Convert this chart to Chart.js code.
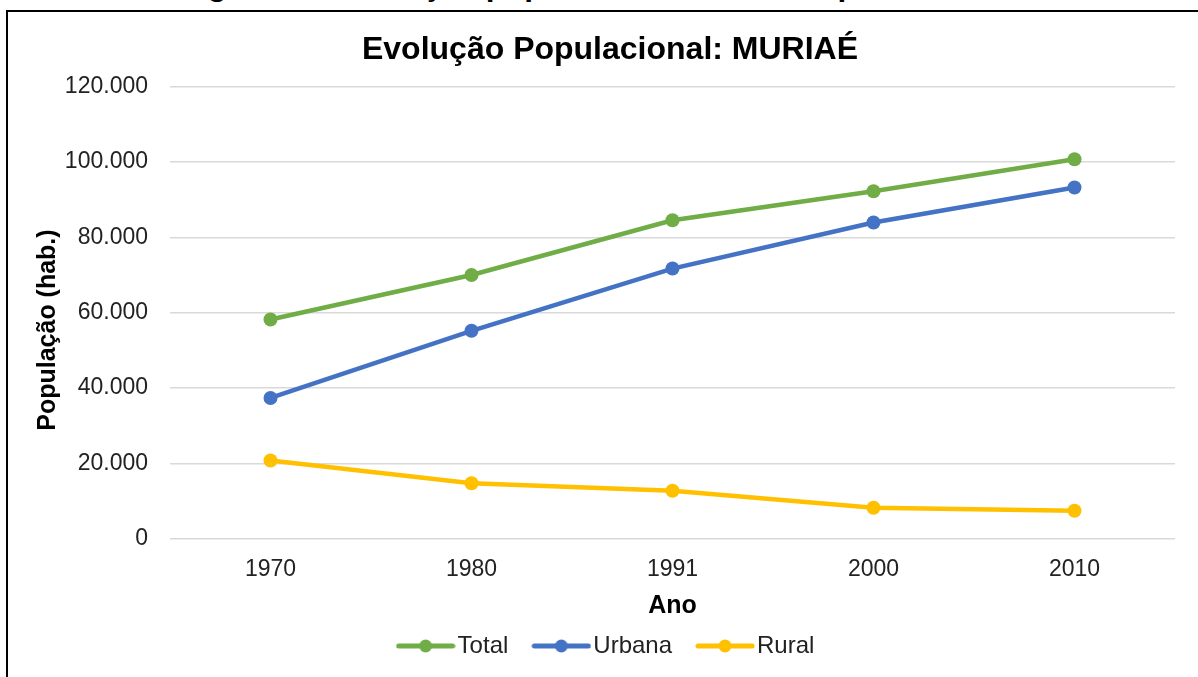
<!DOCTYPE html>
<html>
<head>
<meta charset="utf-8">
<title>Evolução Populacional: MURIAÉ</title>
<script src="https://cdn.jsdelivr.net/npm/chart.js@4/dist/chart.umd.min.js"></script>
<style>
  html, body { margin: 0; padding: 0; background: #fff; overflow: hidden; }
  body { width: 1198px; height: 677px; position: relative; font-family: 'Liberation Sans', Arial, sans-serif; }
  #caption {
    position: absolute; left: 0; width: 1220px; top: -32px;
    text-align: center; font-weight: bold; font-size: 31.5px; line-height: 32px; color: #000;
    white-space: nowrap;
  }
  #frame {
    position: absolute; left: 6px; top: 10px; width: 1220px; height: 700px;
    border: 2px solid #000;
  }
  #chart1 { position: absolute; left: 0; top: 0; }
</style>
</head>
<body>
<div id="caption">Figura 2 – Evolução populacional do município de Muriaé</div>
<div id="frame"></div>
<canvas id="chart1" width="1198" height="677"></canvas>
<script>
// Population of Muriaé by census year (hab.)
const years = ['1970', '1980', '1991', '2000', '2010'];
const total = [58200, 70000, 84500, 92200, 100700];
const urbana = [37400, 55200, 71700, 83900, 93200];
const rural = [20800, 14800, 12800, 8300, 7500];

const seriesNames = ['Total', 'Urbana', 'Rural'];
const seriesColors = ['#70AD47', '#4472C4', '#FFC000'];

Chart.defaults.font.family = "'Liberation Sans', Arial, sans-serif";
Chart.defaults.color = '#222';

// thousands separator as in pt-BR: 120.000
function fmt(v) {
  return String(v).replace(/\B(?=(\d{3})+(?!\d))/g, '.');
}

// legend marker: short line with a dot in the middle
function lineMarker(color) {
  const c = document.createElement('canvas');
  c.width = 60;
  c.height = 16;
  const g = c.getContext('2d');
  g.strokeStyle = color;
  g.lineWidth = 5;
  g.lineCap = 'round';
  g.beginPath();
  g.moveTo(3, 8);
  g.lineTo(57, 8);
  g.stroke();
  g.fillStyle = color;
  g.beginPath();
  g.arc(30, 8, 6.5, 0, Math.PI * 2);
  g.fill();
  return c;
}

const markers = seriesColors.map(lineMarker);

const ctx1 = document.getElementById('chart1').getContext('2d');

new Chart(ctx1, {
  type: 'line',
  data: {
    labels: years,
    datasets: [total, urbana, rural].map(function(values, i) {
      return {
        label: seriesNames[i],
        data: values,
        borderColor: seriesColors[i],
        backgroundColor: seriesColors[i],
        borderWidth: 4.5,
        pointRadius: 7,
        pointHoverRadius: 7,
        pointBorderWidth: 0,
        pointBackgroundColor: seriesColors[i],
        tension: 0,
        fill: false
      };
    })
  },
  options: {
    responsive: false,
    animation: false,
    layout: { padding: { left: 45, right: 23, top: 12, bottom: 9 } },
    plugins: {
      title: {
        display: true,
        text: 'Evolução Populacional: MURIAÉ',
        color: '#000',
        font: { size: 32, weight: 'bold' },
        padding: { top: 19, bottom: 17 }
      },
      legend: {
        position: 'bottom',
        labels: {
          font: { size: 24 },
          color: '#222',
          padding: 33,
          usePointStyle: true,
          pointStyleWidth: 40,
          generateLabels: function(chart) {
            const items = Chart.defaults.plugins.legend.labels.generateLabels(chart);
            items.forEach(function(item) {
              item.pointStyle = markers[item.datasetIndex];
            });
            return items;
          }
        }
      },
      tooltip: { enabled: false }
    },
    scales: {
      x: {
        offset: true,
        grid: { display: false, drawTicks: false },
        border: { display: false },
        ticks: { font: { size: 23 }, color: '#222', padding: 17 },
        title: {
          display: true,
          text: 'Ano',
          color: '#000',
          font: { size: 25, weight: 'bold' },
          padding: { top: 0, bottom: -20 }
        },
        afterFit: function(scale) { scale.height = 62; }
      },
      y: {
        min: 0,
        max: 120000,
        grid: { color: '#D9D9D9', lineWidth: 1.5, drawTicks: false },
        border: { display: false },
        ticks: {
          stepSize: 20000,
          font: { size: 23 },
          color: '#222',
          padding: 22,
          callback: function(v) { return fmt(v); }
        },
        title: {
          display: true,
          text: 'População (hab.)     ',
          color: '#000',
          font: { size: 25, weight: 'bold' },
          padding: { top: -12, bottom: 0 }
        },
        afterFit: function(scale) { scale.width = 125; }
      }
    }
  }
});
</script>
</body>
</html>
